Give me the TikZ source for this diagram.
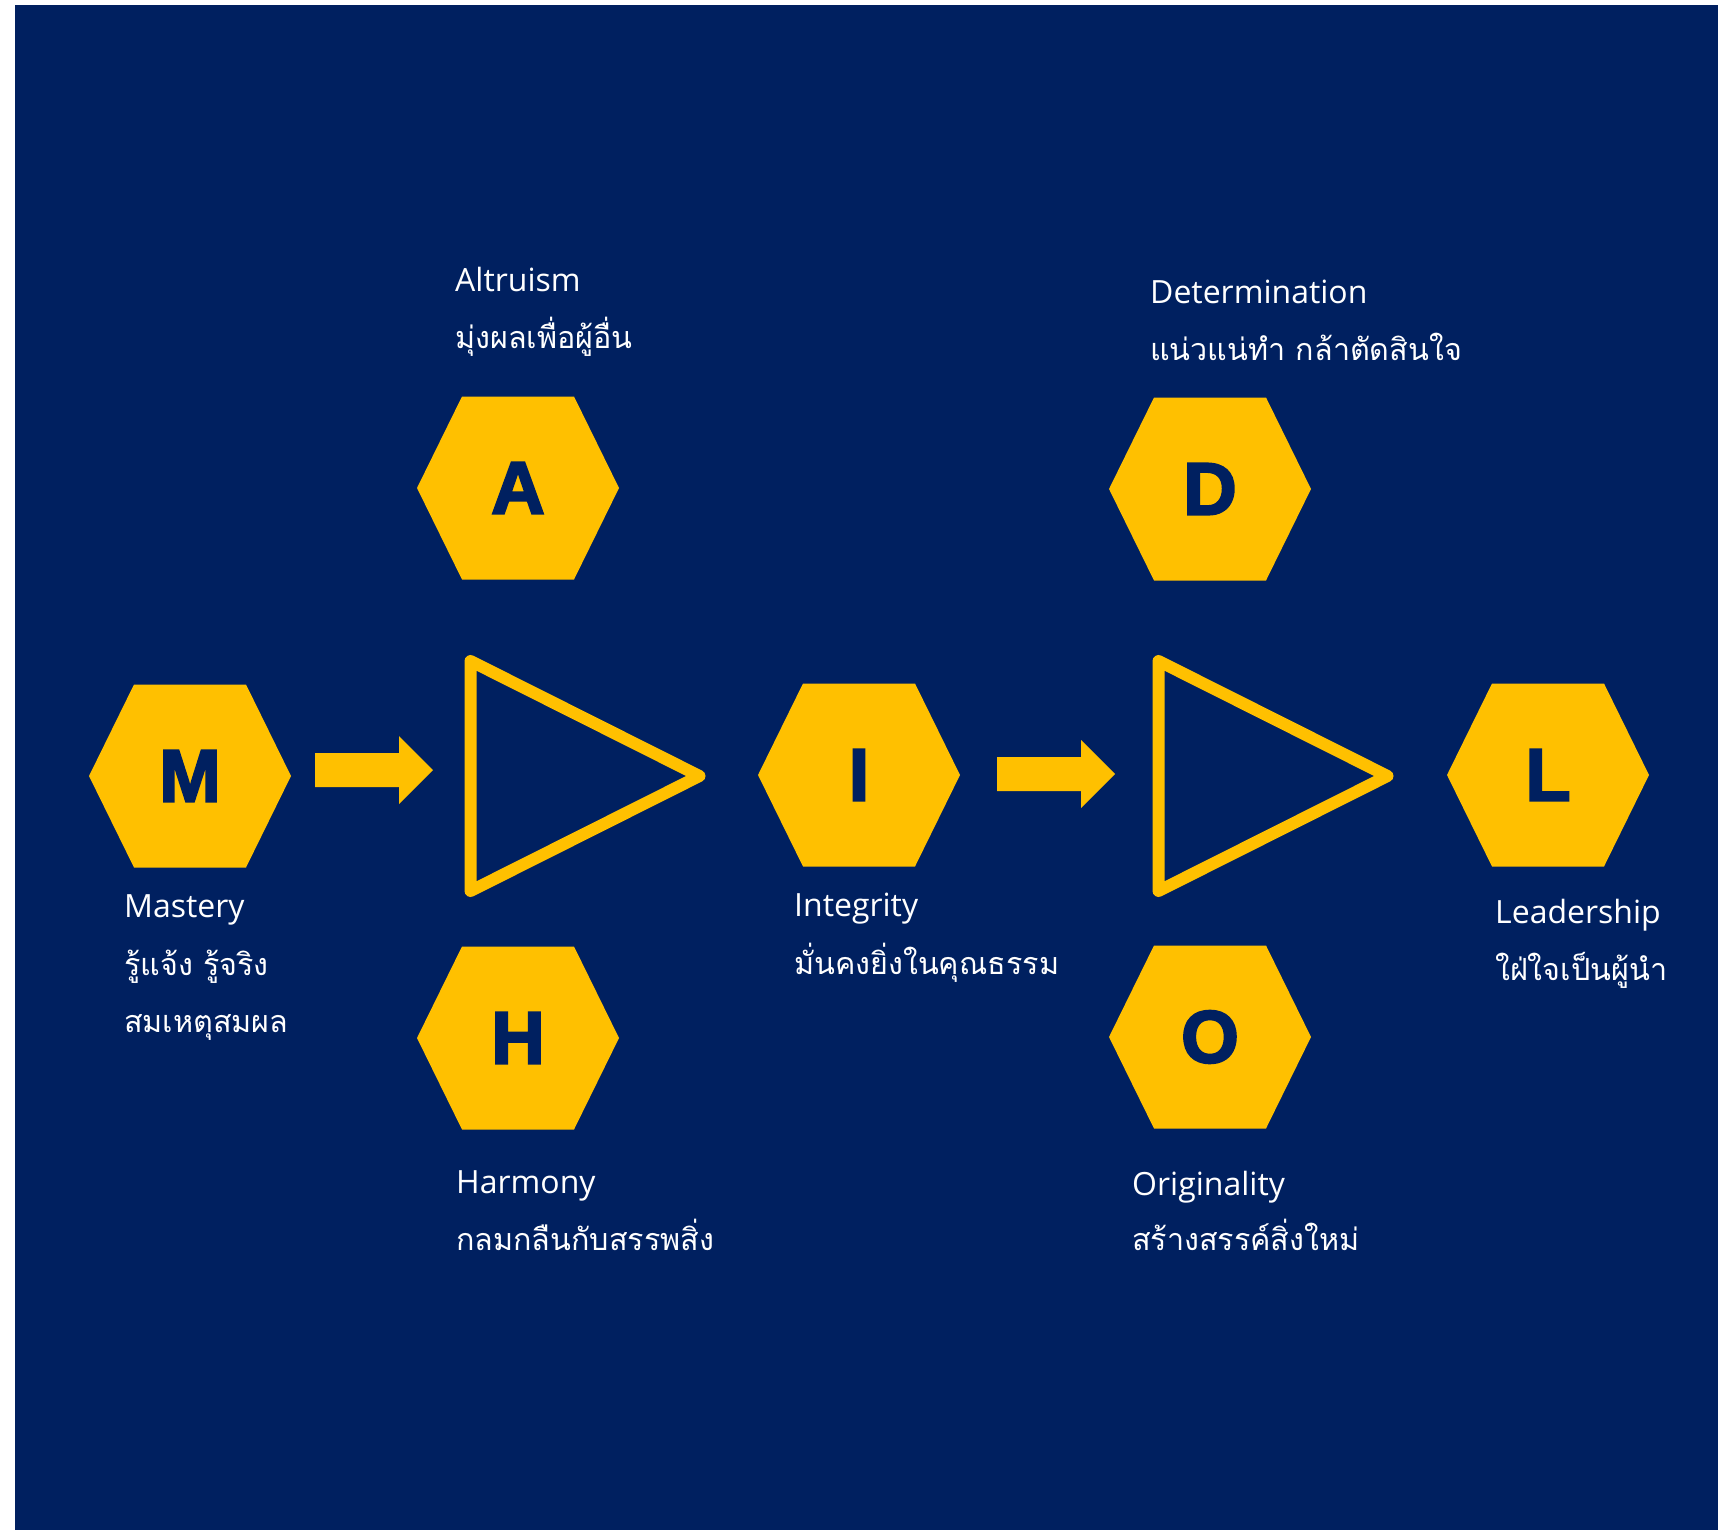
\documentclass[tikz,border=0pt]{standalone}
\usepackage{fontspec}
\setmainfont{Open Sans}
\newfontfamily\thaifont[Script=Thai]{Loma}
\newfontfamily\hexfont[FakeBold=3]{Liberation Sans}
\usetikzlibrary{positioning}
\definecolor{navy}{HTML}{002060}
\definecolor{gold}{HTML}{FFC000}

\tikzset{
  hexletter/.style={text=navy, font=\hexfont\bfseries\fontsize{74}{74}\selectfont, inner sep=0pt},
  entitle/.style={text=white, font=\fontsize{32}{38}\selectfont, anchor=base west, inner sep=0pt},
  thtitle/.style={text=white, font=\thaifont\fontsize{30.5}{37}\selectfont, anchor=base west, inner sep=0pt},
  blockarrow/.style={fill=gold},
  funnel/.style={draw=gold, line width=12pt, line join=round}
}

\begin{document}
\begin{tikzpicture}[x=1pt,y=-1pt]
    \useasboundingbox (0,0) rectangle (1718,1530);
    \fill[white] (0,0) rectangle (1718,1530);
    \fill[navy] (15,5) rectangle (1718,1530);

    % hexagons
    \foreach \n/\x/\y in {M/190/776, A/518/488, H/518/1038, I/859/775, D/1210/489, O/1210/1037, L/1548/775}{
        \fill[gold] (\x,\y) ++(-101,0) -- ++(45,-91.5) -- ++(112,0) -- ++(45,91.5) -- ++(-45,91.5) -- ++(-112,0) -- cycle;
        \node[hexletter] (\n) at (\x,\y) {\n};
    }

    % arrows and triangles
    \foreach \x/\y in {315/753, 997/757}
        \fill[blockarrow] (\x,\y) -- ++(84,0) -- ++(0,-17) -- ++(34,34) -- ++(-34,34) -- ++(0,-17) -- ++(-84,0) -- cycle;
    \foreach \x/\y in {470.5/661, 1158.5/661}
        \draw[funnel] (\x,\y) -- ++(0,230) -- ++(229,-115) -- cycle;

    % texts
    \node[entitle] (Aen) at (455,291) {Altruism};
    \node[thtitle] (Ath) at (455,348) {มุ่งผลเพื่อผู้อื่น};
    \node[entitle] (Den) at (1150,303) {Determination};
    \node[thtitle] (Dth) at (1150,360) {แน่วแน่ทำ กล้าตัดสินใจ};
    \node[entitle] (Men) at (124,917) {Mastery};
    \node[thtitle] (Mth1) at (124,975) {รู้แจ้ง รู้จริง};
    \node[thtitle] (Mth2) at (124,1032) {สมเหตุสมผล};
    \node[entitle] (Ien) at (794,916) {Integrity};
    \node[thtitle] (Ith) at (794,974) {มั่นคงยิ่งในคุณธรรม};
    \node[entitle] (Len) at (1495,923) {Leadership};
    \node[thtitle] (Lth) at (1495,980) {ใฝ่ใจเป็นผู้นำ};
    \node[entitle] (Hen) at (456,1193) {Harmony};
    \node[thtitle] (Hth) at (456,1250) {กลมกลืนกับสรรพสิ่ง};
    \node[entitle] (Oen) at (1132,1195) {Originality};
    \node[thtitle] (Oth) at (1132,1250) {สร้างสรรค์สิ่งใหม่};
\end{tikzpicture}
\end{document}
